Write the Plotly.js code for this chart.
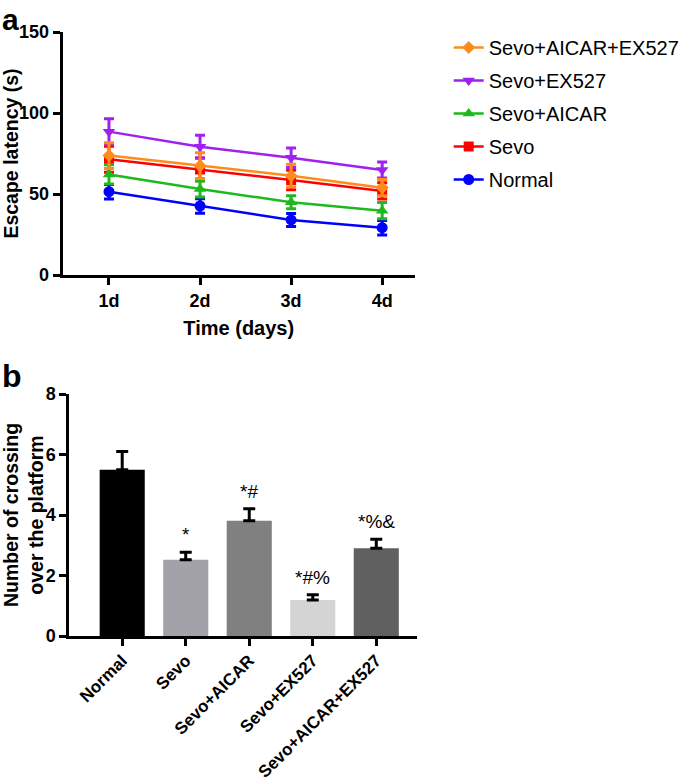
<!DOCTYPE html>
<html>
<head>
<meta charset="utf-8">
<script src="https://cdn.plot.ly/plotly-3.0.1.min.js"></script>
<style>html,body{margin:0;padding:0;background:#fff;}#chart{width:685px;height:784px;}</style>
</head>
<body>
<div id="chart"></div>
<script>
// ---- Panel a data ----
const days = [1, 2, 3, 4];
const dayLabels = ['1d', '2d', '3d', '4d'];
const normalMean = [51.4, 42.6, 34.0, 29.2];
const normalSD = [4.5, 4.5, 4.0, 4.5];
const sevoMean = [71.4, 65.2, 58.6, 51.9];
const sevoSD = [8, 7, 6, 5];
const aicarMean = [62.1, 53.1, 44.9, 39.7];
const aicarSD = [6, 5, 4, 5];
const ex527Mean = [88.5, 79.2, 72.4, 64.8];
const ex527SD = [8, 7, 6, 5];
const aicarEx527Mean = [73.7, 67.5, 61.3, 53.9];
const aicarEx527SD = [8, 8, 7, 5];

// ---- Panel b data ----
const groups = ['Normal', 'Sevo', 'Sevo+AICAR', 'Sevo+EX527', 'Sevo+AICAR+EX527'];
const crossings = [5.5, 2.52, 3.81, 1.19, 2.9];
const crossingsSD = [0.6, 0.25, 0.4, 0.17, 0.3];
const sigMarks = ['', '*', '*#', '*#%', '*%&'];

const FONT = 'Arial, "Liberation Sans", Helvetica, sans-serif';

function lineTrace(name, y, sd, color, symbol, size, rank) {
  return {
    type: 'scatter', mode: 'lines+markers', name: name, legendgroup: name, legendrank: rank,
    x: days, y: y,
    line: {color: color, width: 2.5},
    marker: {color: color, symbol: symbol, size: size},
    error_y: {type: 'data', array: sd, visible: true, color: color, thickness: 3, width: 5},
    xaxis: 'x', yaxis: 'y'
  };
}

const traces = [
  lineTrace('Normal', normalMean, normalSD, '#0000FF', 'circle', 11, 5),
  lineTrace('Sevo', sevoMean, sevoSD, '#FF0000', 'square', 10, 4),
  lineTrace('Sevo+AICAR', aicarMean, aicarSD, '#1DB91D', 'triangle-up', 11, 3),
  lineTrace('Sevo+EX527', ex527Mean, ex527SD, '#A020F0', 'triangle-down', 11, 2),
  lineTrace('Sevo+AICAR+EX527', aicarEx527Mean, aicarEx527SD, '#FF8C1A', 'diamond', 10, 1),
  {
    type: 'bar', x: groups, y: crossings, xaxis: 'x2', yaxis: 'y2', showlegend: false,
    width: 0.71,
    marker: {color: ['#000000', '#A2A2A8', '#808080', '#D4D4D4', '#606060']},
    error_y: {type: 'data', array: crossingsSD, arrayminus: crossingsSD.map(() => 0), symmetric: false, visible: true, color: '#000000', thickness: 3, width: 6}
  }
];

const annotations = [
  {text: '<b>a</b>', x: 0, y: 1 - 19 / 784, xref: 'paper', yref: 'paper', xanchor: 'left', yanchor: 'middle', showarrow: false, font: {family: FONT, size: 30, color: '#000'}},
  {text: '<b>b</b>', x: 0, y: 1 - 376 / 784, xref: 'paper', yref: 'paper', xanchor: 'left', yanchor: 'middle', showarrow: false, font: {family: FONT, size: 32, color: '#000'}}
];
groups.forEach((g, i) => {
  if (sigMarks[i]) {
    annotations.push({
      text: sigMarks[i], x: g, y: crossings[i] + crossingsSD[i], xref: 'x2', yref: 'y2',
      xanchor: 'center', yanchor: 'bottom', yshift: 5, showarrow: false,
      font: {family: FONT, size: 19, color: '#000'}
    });
  }
});

const axisCommon = {
  showline: true, linecolor: '#000', linewidth: 3, mirror: false,
  ticks: 'outside', ticklen: 7, tickwidth: 3, tickcolor: '#000',
  showgrid: false, zeroline: false, automargin: false,
  tickfont: {family: FONT, size: 18, color: '#000', weight: 'bold'}
};

const layout = {
  width: 685, height: 784,
  margin: {l: 0, r: 0, t: 0, b: 0},
  paper_bgcolor: '#fff', plot_bgcolor: '#fff',
  font: {family: FONT, color: '#000'},
  showlegend: true,
  legend: {
    x: 452 / 685, y: 1 - 28 / 784, xanchor: 'left', yanchor: 'top',
    traceorder: 'grouped', tracegroupgap: 4,
    font: {family: FONT, size: 20, color: '#000'},
    itemwidth: 30, bgcolor: 'rgba(0,0,0,0)'
  },
  xaxis: Object.assign({}, axisCommon, {
    domain: [63 / 685, 418 / 685], anchor: 'y',
    range: [0.49, 4.36], tickvals: days, ticktext: dayLabels,
    title: {text: '<b>Time (days)</b>', font: {family: FONT, size: 20, color: '#000'}, standoff: 12}
  }),
  yaxis: Object.assign({}, axisCommon, {
    domain: [1 - 275 / 784, 1 - 32 / 784], anchor: 'x',
    range: [0, 150], tickvals: [0, 50, 100, 150],
    title: {text: '<b>Escape latency (s)</b>', font: {family: FONT, size: 19.5, color: '#000'}, standoff: 8}
  }),
  xaxis2: Object.assign({}, axisCommon, {
    domain: [70 / 685, 420 / 685], anchor: 'y2',
    type: 'category', range: [-0.83, 4.64], tickangle: -45,
    tickfont: {family: FONT, size: 17, color: '#000', weight: 'bold'},
    ticklabelstandoff: -2
  }),
  yaxis2: Object.assign({}, axisCommon, {
    domain: [1 - 636 / 784, 1 - 394 / 784], anchor: 'x2',
    range: [0, 8], tickvals: [0, 2, 4, 6, 8],
    title: {text: '<b>Number of crossing<br>over the platform</b>', font: {family: FONT, size: 19.5, color: '#000'}, standoff: 10}
  }),
  annotations: annotations
};

Plotly.newPlot('chart', traces, layout, {displayModeBar: false, staticPlot: true});
</script>
</body>
</html>
